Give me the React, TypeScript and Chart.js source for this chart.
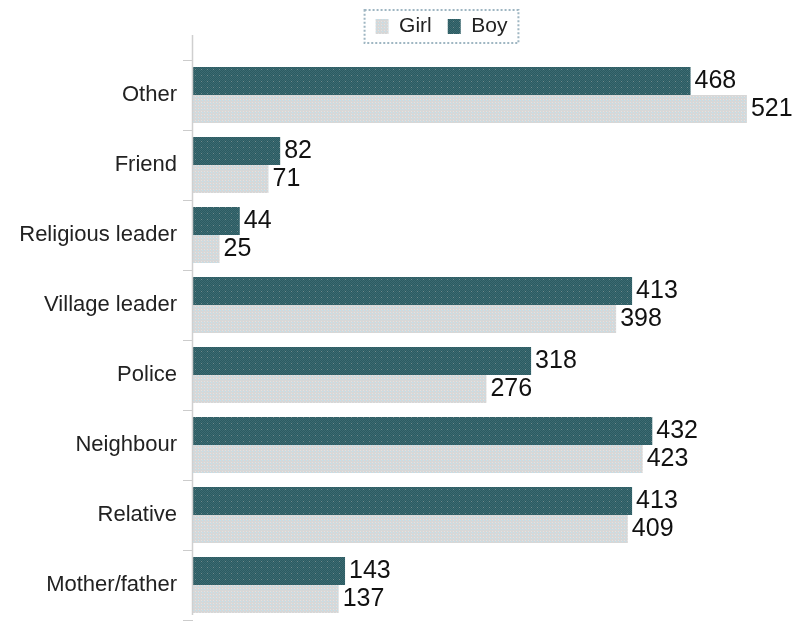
import React, { useEffect, useRef } from "react";
import { Chart, registerables } from "chart.js";

Chart.register(...registerables);

const categories = ["Other", "Friend", "Religious leader", "Village leader", "Police", "Neighbour", "Relative", "Mother/father"];
const boyValues = [468, 82, 44, 413, 318, 432, 413, 143];
const girlValues = [521, 71, 25, 398, 276, 423, 409, 137];
const seriesNames = ["Boy", "Girl"];

const FONT = "'Liberation Sans', Arial, sans-serif";

function makePattern(size: number, base: string, dots: [number, number, string][]) {
  const c = document.createElement("canvas");
  c.width = size;
  c.height = size;
  const ctx = c.getContext("2d")!;
  ctx.fillStyle = base;
  ctx.fillRect(0, 0, size, size);
  dots.forEach(([x, y, col]) => {
    ctx.fillStyle = col;
    ctx.fillRect(x, y, 1, 1);
  });
  const tmp = document.createElement("canvas").getContext("2d")!;
  return tmp.createPattern(c, "repeat")!;
}

export default function App() {
  const ref = useRef<HTMLCanvasElement>(null);
  useEffect(() => {
    const darkPat = makePattern(6, "#2c5b61", [
      [0, 0, "#3b6a72"], [2, 0, "#3b6a72"], [4, 0, "#3b6a72"],
      [1, 1, "#3b6a72"], [3, 1, "#3b6a72"], [5, 1, "#3b6a72"],
      [0, 2, "#3b6a72"], [2, 2, "#3b6a72"], [4, 2, "#3b6a72"],
      [1, 3, "#3b6a72"], [3, 3, "#6f8a8d"], [5, 3, "#3b6a72"],
      [0, 4, "#3b6a72"], [2, 4, "#3b6a72"], [4, 4, "#3b6a72"],
      [1, 5, "#3b6a72"], [3, 5, "#3b6a72"], [5, 5, "#3b6a72"],
    ]);
    const lightPat = makePattern(3, "#d7d7d7", [[1, 1, "#bfe2ef"], [0, 0, "#e2e2e2"]]);

    const legendPlugin = {
      id: "legendTweak",
      afterInit(chart: any) {
        const lg = chart.legend;
        if (lg) {
          const orig = lg.fit;
          lg.fit = function () {
            orig.call(this);
            this.height = 60;
          };
        }
      },
      afterLayout(chart: any) {
        const lg = chart.legend;
        if (lg) {
          lg.left += 42;
          lg.right += 42;
        }
      },
      afterDraw(chart: any) {
        const ctx = chart.ctx;
        const lg = chart.legend;
        const boxes = lg && lg.legendHitBoxes;
        if (boxes && boxes.length) {
          let l = Infinity, r = -Infinity, t = Infinity, b = -Infinity;
          boxes.forEach((h: any) => {
            l = Math.min(l, h.left);
            r = Math.max(r, h.left + h.width);
            t = Math.min(t, h.top);
            b = Math.max(b, h.top + h.height);
          });
          ctx.save();
          ctx.strokeStyle = "#9fb6c2";
          ctx.lineWidth = 2;
          ctx.setLineDash([2, 2]);
          ctx.strokeRect(l - 11, t - 6, r - l + 22, b - t + 12);
          ctx.restore();
        }
        // axis line
        const ca = chart.chartArea;
        const x = chart.scales.x.getPixelForValue(0);
        ctx.save();
        ctx.strokeStyle = "#cfcfcf";
        ctx.lineWidth = 1.5;
        ctx.beginPath();
        ctx.moveTo(x - 0.5, ca.top - 25);
        ctx.lineTo(x - 0.5, ca.bottom - 5);
        ctx.stroke();
        ctx.restore();
        // value labels
        ctx.save();
        ctx.font = "25px " + FONT;
        ctx.fillStyle = "#111";
        ctx.textBaseline = "middle";
        ctx.textAlign = "left";
        chart.data.datasets.forEach((ds: any, i: number) => {
          const meta = chart.getDatasetMeta(i);
          meta.data.forEach((bar: any, j: number) => {
            ctx.fillText(String(ds.data[j]), bar.x + 4, bar.y);
          });
        });
        ctx.restore();
      },
    };

    const chart = new Chart(ref.current!, {
      type: "bar",
      data: {
        labels: categories,
        datasets: [
          { label: seriesNames[0], data: boyValues, backgroundColor: darkPat as any, borderWidth: 0 },
          { label: seriesNames[1], data: girlValues, backgroundColor: lightPat as any, borderWidth: 0 },
        ],
      },
      options: {
        indexAxis: "y",
        animation: false,
        responsive: false,
        maintainAspectRatio: false,
        layout: { padding: { top: 0, bottom: 2, left: 0, right: 0 } },
        datasets: { bar: { categoryPercentage: 0.8, barPercentage: 1.0 } },
        plugins: {
          legend: {
            display: true,
            position: "top",
            reverse: true,
            labels: {
              boxWidth: 13,
              boxHeight: 15,
              padding: 16,
              color: "#222",
              font: { size: 21, family: FONT },
            },
          },
          tooltip: { enabled: false },
        },
        scales: {
          x: { display: false, min: 0, max: 570 },
          y: {
            afterFit(scale: any) {
              scale.width = 193;
              scale.paddingTop = 0;
              scale.paddingBottom = 0;
            },
            border: { display: false },
            grid: {
              display: true,
              drawOnChartArea: false,
              drawTicks: true,
              tickLength: 10,
              color: "#cccccc",
              offset: true,
            },
            ticks: {
              padding: 6,
              color: "#222",
              font: { size: 22, family: FONT },
            },
          },
        },
      },
      plugins: [legendPlugin],
    });
    return () => chart.destroy();
  }, []);

  return (
    <div style={{ position: "absolute", left: 0, top: 0, width: 799, height: 622, background: "#fff" }}>
      <canvas ref={ref} width={799} height={622} style={{ width: 799, height: 622, display: "block" }} />
    </div>
  );
}
